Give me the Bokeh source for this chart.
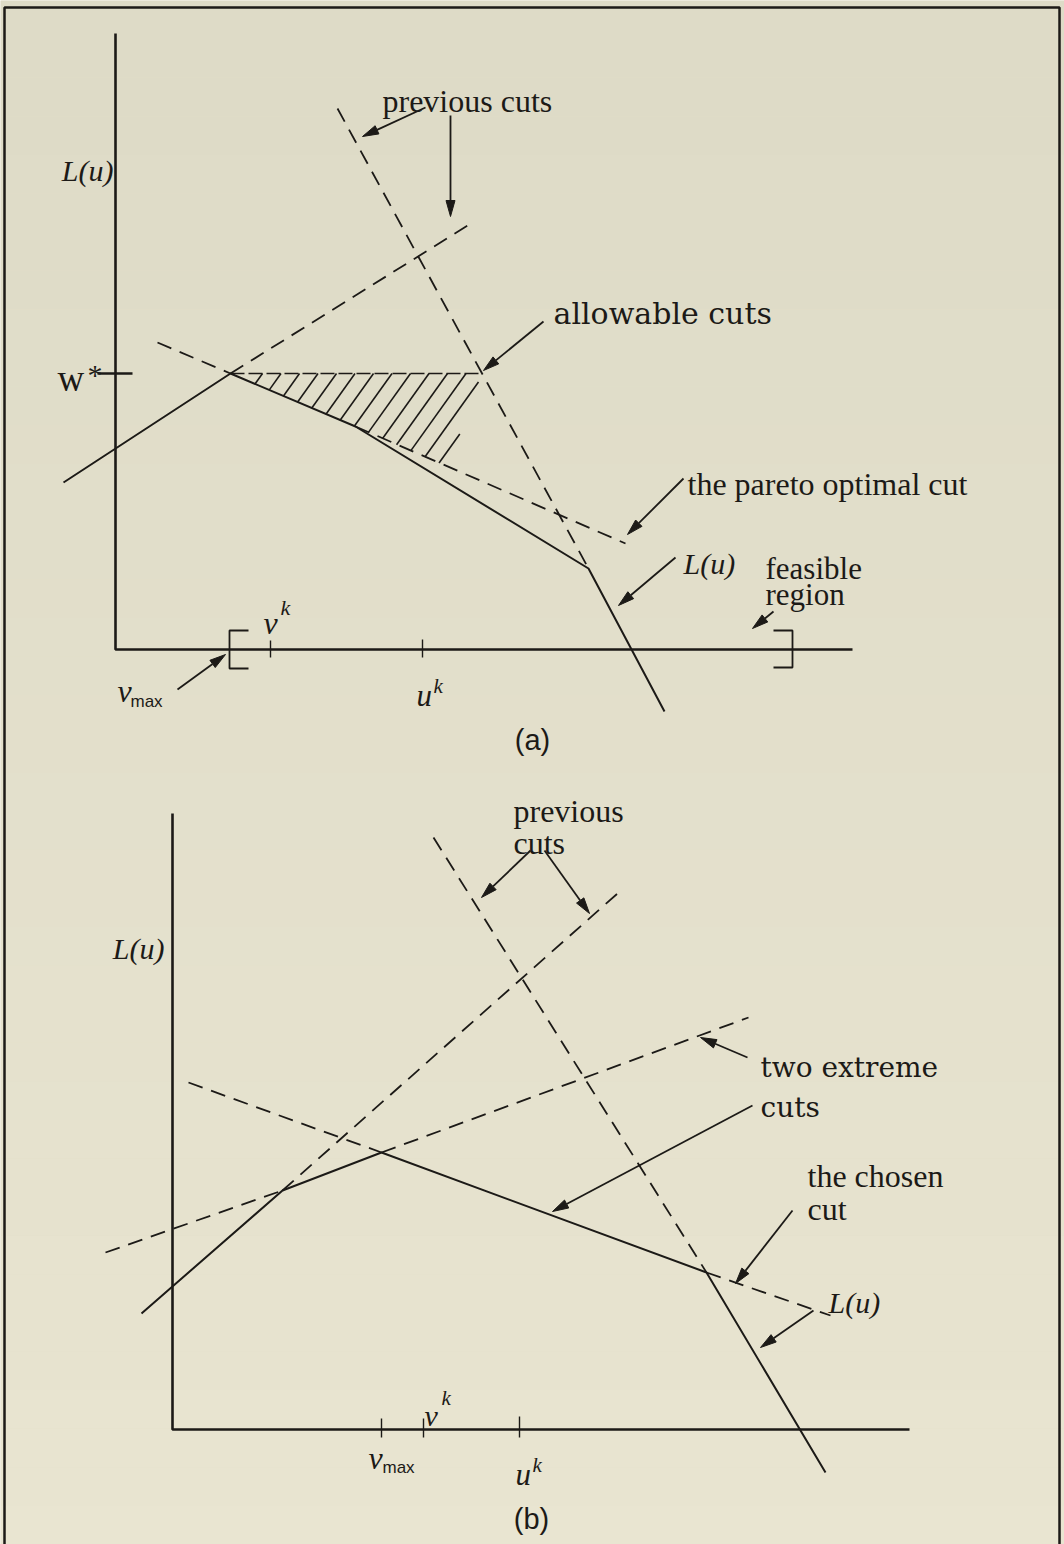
import numpy as np
from bokeh.plotting import figure
from bokeh.models import Range1d
from bokeh.embed import file_html
from bokeh.resources import INLINE
from bokeh.core.properties import value

W, H = 1064, 1544
INK = "#1c1a17"
SERIF = "Liberation Serif"
WIDE_SERIF = "DejaVu Serif"
SANS = "Liberation Sans"

# ---------------------------------------------------------------------------
# Diagram geometry, page coordinates (x to the right, y downward)
# ---------------------------------------------------------------------------
FRAME_X = [4, 4, 1059, 1059]
FRAME_Y = [1560, 7, 7, 1560]

# ---- panel (a) ----
A_AXIS_X = [115, 115, 852]
A_AXIS_Y = [33, 649, 649]
A_WSTAR_X = [97, 132]
A_WSTAR_Y = [373, 373]
A_LU_X = [63, 230, 355, 588, 664]          # solid L(u)
A_LU_Y = [482, 373, 426, 568, 711]
A_PARETO_X = [157, 230, 355, 625]          # pareto optimal cut
A_PARETO_Y = [342, 373, 426, 543]
A_RISE_X = [230, 472]                      # previous cut (rising)
A_RISE_Y = [373, 222]
A_STEEP_X = [337, 588]                     # previous cut (falling)
A_STEEP_Y = [108, 568]
A_HATCH_RIGHT_X = [481, 448]               # right edge of allowable region
A_HATCH_RIGHT_Y = [373, 465]
A_BRACKET_L_X = [248, 229, 229, 248]
A_BRACKET_L_Y = [630, 630, 668, 668]
A_BRACKET_R_X = [773, 792, 792, 773]
A_BRACKET_R_Y = [630, 630, 667, 667]
A_TICK_X = [270, 422]                      # v^k, u^k
A_TICK_Y0 = [640, 639]
A_TICK_Y1 = [657, 657]

# ---- panel (b) ----
B_AXIS_X = [172, 172, 909]
B_AXIS_Y = [813, 1429, 1429]
B_LU_X = [141, 282, 381, 706, 825]         # solid L(u)
B_LU_Y = [1313, 1190, 1152, 1272, 1472]
B_DASH_XS = [[105, 282], [381, 748], [282, 617], [188, 381], [706, 830], [433, 706]]
B_DASH_YS = [[1252, 1190], [1152, 1017], [1190, 893], [1082, 1152], [1272, 1315], [837, 1272]]
B_TICK_X = [381, 423, 519]                 # v_max, v^k, u^k
B_TICK_Y0 = [1418, 1418, 1416]
B_TICK_Y1 = [1437, 1437, 1437]

# ---- annotation arrows (start -> tip) ----
ARROW_X0 = [425, 450, 543, 683, 675, 773, 177, 530, 544, 747, 752, 792, 813]
ARROW_Y0 = [107, 115, 321, 478, 557, 611, 689, 850, 850, 1057, 1105, 1210, 1310]
ARROW_X1 = [362, 450, 483, 627, 618, 752, 225, 481, 589, 700, 552, 735, 760]
ARROW_Y1 = [136, 216, 370, 534, 605, 628, 654, 897, 913, 1037, 1211, 1283, 1347]

# ---- labels: text, x, baseline y, font, size, style, align ----
LABELS = [
    ("previous cuts", 382, 100, SERIF, 32, "normal", "left"),
    ("allowable cuts", 553, 313, WIDE_SERIF, 30, "normal", "left"),
    ("the pareto optimal cut", 687, 483, SERIF, 32, "normal", "left"),
    ("L(u)", 683, 563, SERIF, 30, "italic", "left"),
    ("feasible", 765, 568, SERIF, 31, "normal", "left"),
    ("region", 765, 594, SERIF, 31, "normal", "left"),
    ("L(u)", 113, 170, SERIF, 30, "italic", "right"),
    ("w", 57, 378, SERIF, 37, "normal", "left"),
    ("*", 87, 374, SERIF, 30, "normal", "left"),
    ("v", 263, 622, SERIF, 32, "italic", "left"),
    ("k", 280, 607, SERIF, 22, "italic", "left"),
    ("u", 416, 695, SERIF, 31, "italic", "left"),
    ("k", 433, 685, SERIF, 21, "italic", "left"),
    ("v", 117, 690, SERIF, 32, "italic", "left"),
    ("max", 130, 701, SANS, 17, "normal", "left"),
    ("(a)", 532, 739, SANS, 29, "normal", "center"),
    ("L(u)", 164, 948, SERIF, 30, "italic", "right"),
    ("previous", 513, 810, SERIF, 32, "normal", "left"),
    ("cuts", 513, 842, SERIF, 32, "normal", "left"),
    ("two extreme", 760, 1067, WIDE_SERIF, 28, "normal", "left"),
    ("cuts", 760, 1107, WIDE_SERIF, 28, "normal", "left"),
    ("the chosen", 807, 1175, SERIF, 32, "normal", "left"),
    ("cut", 807, 1208, SERIF, 32, "normal", "left"),
    ("L(u)", 828, 1302, SERIF, 30, "italic", "left"),
    ("v", 368, 1457, SERIF, 32, "italic", "left"),
    ("max", 382, 1467, SANS, 17, "normal", "left"),
    ("v", 424, 1415, SERIF, 30, "italic", "left"),
    ("k", 441, 1397, SERIF, 21, "italic", "left"),
    ("u", 515, 1474, SERIF, 31, "italic", "left"),
    ("k", 532, 1464, SERIF, 21, "italic", "left"),
    ("(b)", 531, 1518, SANS, 29, "normal", "center"),
]

# ---------------------------------------------------------------------------
p = figure(width=W, height=H, x_range=Range1d(0, W), y_range=Range1d(H, 0),
           x_axis_type=None, y_axis_type=None, toolbar_location=None,
           output_backend="svg", min_border=0, outline_line_color=None,
           background_fill_color="#e2dec8", border_fill_color="#e2dec8")

# paper tone, slightly warmer towards the bottom
bands = np.linspace(0, H, 41)
c0, c1 = np.array([222, 219, 199]), np.array([233, 229, 209])
band_cols = ["#%02x%02x%02x" % tuple(int(v) for v in c0 + (c1 - c0) * f)
             for f in np.linspace(0, 1, 40)]
p.quad(left=0, right=W, top=bands[:-1], bottom=bands[1:], color=band_cols, line_color=None)

# outer frame
p.line(FRAME_X, FRAME_Y, line_color=INK, line_width=2.5)

# axes
for ax_x, ax_y in ((A_AXIS_X, A_AXIS_Y), (B_AXIS_X, B_AXIS_Y)):
    p.line(ax_x, ax_y, line_color=INK, line_width=2.6)
p.line(A_WSTAR_X, A_WSTAR_Y, line_color=INK, line_width=2.6)

# ticks on the u axes
p.segment(x0=A_TICK_X + B_TICK_X, x1=A_TICK_X + B_TICK_X,
          y0=A_TICK_Y0 + B_TICK_Y0, y1=A_TICK_Y1 + B_TICK_Y1,
          line_color=INK, line_width=1.4)

# feasible-region brackets
p.multi_line([A_BRACKET_L_X, A_BRACKET_R_X], [A_BRACKET_L_Y, A_BRACKET_R_Y],
             line_color=INK, line_width=1.8)

# solid L(u)
p.multi_line([A_LU_X, B_LU_X], [A_LU_Y, B_LU_Y], line_color=INK, line_width=2.0)

# dashed cuts; in (a) the pareto cut is dashed outside the solid stretch
dash_xs = [A_PARETO_X[0:2], A_PARETO_X[2:4], A_RISE_X, A_STEEP_X] + B_DASH_XS
dash_ys = [A_PARETO_Y[0:2], A_PARETO_Y[2:4], A_RISE_Y, A_STEEP_Y] + B_DASH_YS
p.multi_line(dash_xs, dash_ys, line_color=INK, line_width=1.8, line_dash="15 9")

# allowable-cut region: top at w*, bottom along the pareto cut, right edge
top_y = A_WSTAR_Y[0]
k = (A_PARETO_Y[3] - A_PARETO_Y[0]) / (A_PARETO_X[3] - A_PARETO_X[0])
x_left = A_LU_X[1]
r = (A_HATCH_RIGHT_X[0] - A_HATCH_RIGHT_X[1]) / (A_HATCH_RIGHT_Y[1] - A_HATCH_RIGHT_Y[0])
m = 1.4                                    # hatch slope (dy/dx)
hx0, hx1, hy0, hy1 = [], [], [], []
for t in np.arange(262, 600, 18.5):
    s_max = k * (t - x_left) / (1 + k / m)
    s_min = max(0.0, (t - A_HATCH_RIGHT_X[0]) / (1 / m - r))
    if s_max - s_min > 2:
        hx0.append(t - s_min / m); hy0.append(top_y + s_min)
        hx1.append(t - s_max / m); hy1.append(top_y + s_max)
p.segment(x0=hx0, y0=hy0, x1=hx1, y1=hy1, line_color=INK, line_width=1.6)
p.line([x_left, A_HATCH_RIGHT_X[0]], [top_y, top_y], line_color=INK,
       line_width=1.7, line_dash="14 4")

# arrows: shaft plus slender filled head
x0 = np.array(ARROW_X0, float); y0 = np.array(ARROW_Y0, float)
x1 = np.array(ARROW_X1, float); y1 = np.array(ARROW_Y1, float)
d = np.hypot(x1 - x0, y1 - y0)
ux, uy = (x1 - x0) / d, (y1 - y0) / d
head_len, head_half = 16.0, 4.5
bx, by = x1 - head_len * ux, y1 - head_len * uy
p.segment(x0=x0, y0=y0, x1=bx, y1=by, line_color=INK, line_width=1.8)
p.patches(xs=[[a, b + head_half * (-v), b - head_half * (-v)] for a, b, v in zip(x1, bx, uy)],
          ys=[[a, b + head_half * u, b - head_half * u] for a, b, u in zip(y1, by, ux)],
          fill_color=INK, line_color=INK, line_width=1)

# labels
for txt, tx, ty, font, size, style, align in LABELS:
    p.text(x=[tx], y=[ty], text=[txt], text_font=value(font),
           text_font_size=f"{size}px", text_font_style=style,
           text_align=align, text_baseline="alphabetic", text_color=INK)

open("out.html", "w").write(file_html(p, INLINE))
